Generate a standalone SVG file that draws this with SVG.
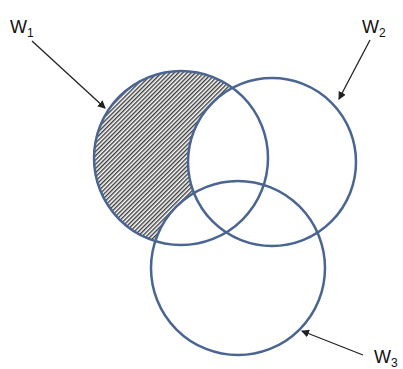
<svg xmlns="http://www.w3.org/2000/svg" width="403" height="369" viewBox="0 0 403 369">
<style>
.c{fill:none;stroke:#4a6591;stroke-width:2.5}
.a{stroke:#222;stroke-width:1.3;fill:none;marker-end:url(#ah)}
.t{font-family:"Liberation Sans",Arial,sans-serif;font-size:18px;fill:#111}
.s{font-size:12px}
</style>
<defs>
<pattern id="hatch" patternUnits="userSpaceOnUse" width="3" height="3" patternTransform="rotate(45)">
<rect width="3" height="3" fill="#fff"/>
<rect width="1.4" height="3" fill="#3a3a3a"/>
</pattern>
<mask id="m">
<circle cx="181" cy="158" r="87" fill="#fff"/>
<circle cx="272" cy="162" r="84" fill="#000"/>
<circle cx="238" cy="268" r="87" fill="#000"/>
</mask>
<marker id="ah" markerWidth="8" markerHeight="8" refX="7" refY="4" orient="auto" markerUnits="userSpaceOnUse">
<path d="M0,0 L8,4 L0,8 z" fill="#222"/>
</marker>
</defs>
<g id="hatched">
<rect x="90" y="68" width="180" height="180" fill="url(#hatch)" mask="url(#m)"/>
</g>
<g id="W1"><circle class="c" cx="181" cy="158" r="87"/>
<text class="t" x="10" y="33">W<tspan class="s" dy="4">1</tspan></text></g>
<g id="W2"><circle class="c" cx="272" cy="162" r="84"/>
<text class="t" x="362" y="33">W<tspan class="s" dy="4">2</tspan></text></g>
<g id="W3"><circle class="c" cx="238" cy="268" r="87"/>
<text class="t" x="374" y="363">W<tspan class="s" dy="4">3</tspan></text></g>
<g id="connectors">
<line class="a" x1="32" y1="41" x2="105" y2="108"/>
<line class="a" x1="370" y1="40" x2="339" y2="99"/>
<line class="a" x1="363" y1="355" x2="302" y2="331"/>
</g>
</svg>
